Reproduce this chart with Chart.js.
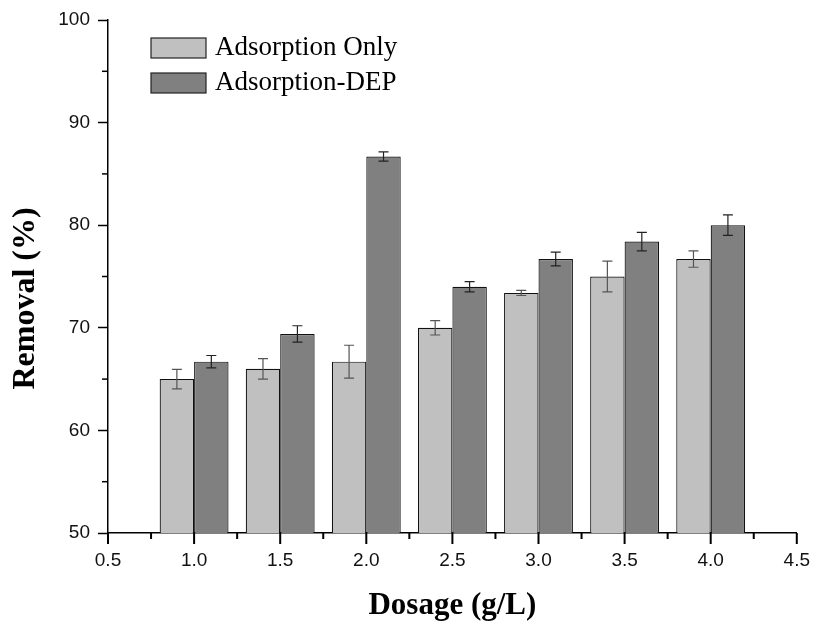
<!DOCTYPE html>
<html>
<head>
<meta charset="utf-8">
<script src="https://cdn.jsdelivr.net/npm/chart.js@4.4.0/dist/chart.umd.min.js"></script>
<style>
  html, body { margin: 0; padding: 0; background: #fff; }
  #wrap { width: 816px; height: 622px; }
</style>
</head>
<body>
<div id="wrap"><canvas id="chart"></canvas></div>
<script>
// dosage (g/L) and removal (%)
const dosages = [1.0, 1.5, 2.0, 2.5, 3.0, 3.5, 4.0];
const adsorptionOnly = [65.0, 66.0, 66.7, 70.0, 73.4, 75.0, 76.7];
const adsorptionOnlyErr = [0.95, 1.0, 1.6, 0.7, 0.25, 1.5, 0.8];
const adsorptionDep = [66.7, 69.4, 86.7, 74.0, 76.7, 78.4, 80.0];
const adsorptionDepErr = [0.6, 0.8, 0.45, 0.5, 0.67, 0.9, 1.0];
const xMajorTicks = [0.5, 1.0, 1.5, 2.0, 2.5, 3.0, 3.5, 4.0, 4.5];
const xMinorTicks = [0.75, 1.25, 1.75, 2.25, 2.75, 3.25, 3.75, 4.25];
const yMinorTicks = [55, 65, 75, 85, 95];

const tickFont = { family: 'Liberation Sans', size: 19 };
const serif = 'Liberation Serif';

// error bars on top of each bar
const errorBars = {
    id: 'errorBars',
    afterDatasetsDraw(chart) {
        const ctx = chart.ctx;
        const y = chart.scales.y;
        chart.data.datasets.forEach((ds, i) => {
            const meta = chart.getDatasetMeta(i);
            meta.data.forEach((bar, j) => {
                const v = ds.data[j].y;
                const e = ds.errors[j];
                const top = y.getPixelForValue(v + e);
                const bot = y.getPixelForValue(v - e);
                ctx.save();
                ctx.strokeStyle = ds.errorColor;
                ctx.lineWidth = 1.2;
                ctx.beginPath();
                ctx.moveTo(bar.x, top); ctx.lineTo(bar.x, bot);
                ctx.moveTo(bar.x - 5, top); ctx.lineTo(bar.x + 5, top);
                ctx.moveTo(bar.x - 5, bot); ctx.lineTo(bar.x + 5, bot);
                ctx.stroke();
                ctx.restore();
            });
        });
    }
};

// axis ticks, legend box and y title
const extras = {
    id: 'extras',
    afterDraw(chart) {
        const ctx = chart.ctx;
        const { x, y } = chart.scales;
        const area = chart.chartArea;
        ctx.save();
        ctx.fillStyle = '#000';
        xMajorTicks.forEach(v => {
            const px = x.getPixelForValue(v);
            ctx.fillRect(px - 1, area.bottom, 2, 11);
        });
        xMinorTicks.forEach(v => {
            const px = x.getPixelForValue(v);
            ctx.fillRect(px - 1, area.bottom, 2, 6);
        });
        yMinorTicks.forEach(v => {
            const py = y.getPixelForValue(v);
            ctx.fillRect(area.left - 6, py - 0.75, 6, 1.5);
        });

        // legend
        const lx = area.left + 43;
        let ly = area.top + 18;
        chart.data.datasets.forEach(ds => {
            ctx.fillStyle = ds.backgroundColor;
            ctx.fillRect(lx, ly, 55, 20);
            ctx.strokeStyle = '#222';
            ctx.lineWidth = 1.2;
            ctx.strokeRect(lx, ly, 55, 20);
            ctx.fillStyle = '#000';
            ctx.font = '27px "' + serif + '"';
            ctx.textBaseline = 'middle';
            ctx.textAlign = 'left';
            ctx.fillText(ds.label, lx + 64, ly + 10);
            ly += 35;
        });

        // y axis title
        ctx.translate(26, (area.top + area.bottom) / 2 + 22);
        ctx.rotate(-Math.PI / 2);
        ctx.font = 'bold 32px "' + serif + '"';
        ctx.textAlign = 'center';
        ctx.textBaseline = 'middle';
        ctx.fillStyle = '#000';
        ctx.fillText('Removal (%)', 0, 0);
        ctx.restore();
    }
};

const ctx = document.getElementById('chart').getContext('2d');

const chart = new Chart(ctx, {
    type: 'bar',
    data: {
        datasets: [
            {
                label: 'Adsorption Only',
                data: dosages.map((d, i) => ({ x: d, y: adsorptionOnly[i] })),
                errors: adsorptionOnlyErr,
                errorColor: '#555',
                backgroundColor: '#c0c0c0',
                borderColor: '#111',
                borderWidth: 1.2
            },
            {
                label: 'Adsorption-DEP',
                data: dosages.map((d, i) => ({ x: d, y: adsorptionDep[i] })),
                errors: adsorptionDepErr,
                errorColor: '#222',
                backgroundColor: '#808080',
                borderColor: '#111',
                borderWidth: 1.2
            }
        ]
    },
    options: {
        responsive: true,
        maintainAspectRatio: false,
        animation: false,
        categoryPercentage: 0.8,
        barPercentage: 1.0,
        layout: { padding: { left: 0, top: 20, right: 16, bottom: 0 } },
        plugins: {
            legend: { display: false },
            tooltip: { enabled: false }
        },
        scales: {
            x: {
                type: 'linear',
                min: 0.5,
                max: 4.5,
                offset: false,
                afterFit: s => { s.height = 89; },
                border: { color: '#000', width: 1.5 },
                grid: { offset: false, drawOnChartArea: false, tickLength: 10, tickColor: 'rgba(0,0,0,0)' },
                ticks: {
                    stepSize: 0.5,
                    color: '#111',
                    font: tickFont,
                    padding: 6,
                    maxRotation: 0,
                    callback: v => v.toFixed(1)
                },
                title: {
                    display: true,
                    text: 'Dosage (g/L)',
                    color: '#000',
                    font: { family: serif, size: 31, weight: 'bold', lineHeight: 1 },
                    padding: { top: 0, bottom: 1 }
                }
            },
            y: {
                min: 50,
                max: 100,
                afterFit: s => { s.width = 108; },
                border: { color: '#000', width: 1.5 },
                grid: { drawOnChartArea: false, tickLength: 10, tickColor: '#000', tickWidth: 1.5 },
                ticks: {
                    stepSize: 10,
                    color: '#111',
                    font: tickFont,
                    padding: 8
                }
            }
        }
    },
    plugins: [errorBars, extras]
});
</script>
</body>
</html>
